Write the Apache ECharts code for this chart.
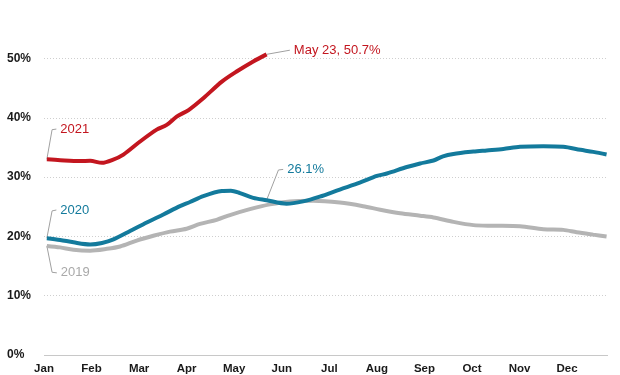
<!DOCTYPE html>
<html>
<head>
<meta charset="utf-8">
<script src="https://cdn.jsdelivr.net/npm/echarts@6/dist/echarts.min.js"></script>
<style>
html,body{margin:0;padding:0;background:#fff;}
#c{width:620px;height:375px;}
</style>
</head>
<body>
<div id="c"></div>
<script>
// Month tick labels (x value = months since Jan 1)
const monthLabels = ['Jan','Feb','Mar','Apr','May','Jun','Jul','Aug','Sep','Oct','Nov','Dec'];
const yTicks = [0, 10, 20, 30, 40, 50];

// 2021 series
const x2021 = [0.06,0.34,0.76,0.97,1.22,1.43,1.67,2.02,2.37,2.58,2.79,3.04,3.35,3.74,4.05,4.40,4.68];
const v2021 = [33.0,32.85,32.7,32.75,32.4,32.85,33.8,36.0,38.0,38.8,40.2,41.3,43.3,46.1,47.8,49.5,50.7];

// 2020 series
const x2020 = [0.06,0.34,0.62,0.97,1.22,1.46,1.81,2.16,2.51,2.86,3.07,3.35,3.74,3.93,4.12,4.40,4.68,5.10,5.45,5.80,6.22,6.64,7.00,7.21,7.63,7.91,8.19,8.39,8.61,9.03,9.31,9.66,10.01,10.5,10.92,11.28,11.55,11.83];
const v2020 = [19.7,19.4,19.0,18.65,18.9,19.5,20.9,22.35,23.7,25.1,25.8,26.8,27.65,27.7,27.3,26.5,26.1,25.5,25.9,26.7,27.9,29.05,30.2,30.6,31.7,32.3,32.8,33.5,33.9,34.3,34.5,34.75,35.1,35.2,35.1,34.6,34.25,33.8];

// 2019 series
const x2019 = [0.06,0.34,0.62,0.97,1.32,1.60,1.95,2.30,2.65,3.00,3.28,3.63,3.91,4.33,4.75,5.17,5.66,6.22,6.71,7.07,7.49,7.91,8.19,8.61,9.03,9.45,10.01,10.5,10.92,11.2,11.55,11.83];
const v2019 = [18.4,18.15,17.75,17.6,17.9,18.3,19.3,20.1,20.8,21.3,22.1,22.8,23.6,24.6,25.4,25.9,26.0,25.7,25.1,24.5,23.9,23.5,23.2,22.45,21.9,21.8,21.7,21.2,21.1,20.7,20.3,20.0];

// Annotation leader lines: [month, value] pairs (start on the series, elbow, end)
const lead2021 = [[0.06,33.0],[0.17,38.0],[0.26,38.1]];
const lead2020 = [[0.06,19.7],[0.17,24.3],[0.26,24.45]];
const lead2019 = [[0.06,18.4],[0.17,13.95],[0.27,13.85]];
const leadMid2020 = [[4.68,26.1],[4.93,31.2],[5.03,31.3]];
const leadEnd2021 = [[4.68,50.7],[5.17,51.4]];

const RED = '#c3161f', BLUE = '#137a9c', GRAY = '#b4b4b4', LGRAY = '#a9a9a9';
const FONT = "'Liberation Sans', Arial, sans-serif";

function zip(xs, vs){ return xs.map((x,i)=>[x, vs[i]]); }

function leader(data, text, color){
  return {
    type:'line', data: data,
    symbol:'none', showSymbol:false, silent:true, z:1, clip:false,
    lineStyle:{color:'#a0a0a0', width:1}, animation:false,
    endLabel:{show:true, formatter:text, distance:4, color:color, fontSize:13, fontFamily:FONT}
  };
}

const chart = echarts.init(document.getElementById('c'), null, {renderer:'canvas'});
chart.setOption({
  animation:false,
  grid:{left:44, right:12, top:58.5, bottom:18.5, containLabel:false},
  xAxis:{
    type:'value', min:0, max:11.86, interval:1,
    axisLine:{show:false}, axisTick:{show:false}, splitLine:{show:false},
    axisLabel:{
      showMaxLabel:false, margin:8, color:'#1a1a1a', fontSize:11.5, fontWeight:'bold', fontFamily:FONT,
      formatter:(v)=>{ const i=Math.round(v); return (Math.abs(v-i)<1e-6 && i<12) ? monthLabels[i] : ''; }
    }
  },
  yAxis:{
    type:'value', min:yTicks[0], max:yTicks[yTicks.length-1], interval:10,
    axisLine:{show:false}, axisTick:{show:false},
    splitLine:{show:true, lineStyle:{color:'#cfcfcf', type:[1,2], width:1}},
    axisLabel:{align:'left', margin:37, color:'#1a1a1a', fontSize:12, fontWeight:'bold', fontFamily:FONT,
      formatter:(v)=> v + '%'}
  },
  series:[
    leader(lead2021, '2021', RED),
    leader(lead2020, '2020', BLUE),
    leader(lead2019, '2019', LGRAY),
    leader(leadMid2020, '26.1%', BLUE),
    leader(leadEnd2021, 'May 23, 50.7%', RED),
    {type:'line', data: zip(x2019, v2019), smooth:0.3, symbol:'none', clip:false, z:3,
      lineStyle:{color:GRAY, width:4}},
    {type:'line', data: zip(x2020, v2020), smooth:0.3, symbol:'none', clip:false, z:4,
      lineStyle:{color:BLUE, width:4}},
    {type:'line', data: zip(x2021, v2021), smooth:0.3, symbol:'none', clip:false, z:5,
      lineStyle:{color:RED, width:4},
      markLine:{silent:true, symbol:'none', label:{show:false},
        lineStyle:{color:'#c8c8c8', type:'solid', width:1}, data:[{yAxis:0}]}}
  ]
});
</script>
</body>
</html>
